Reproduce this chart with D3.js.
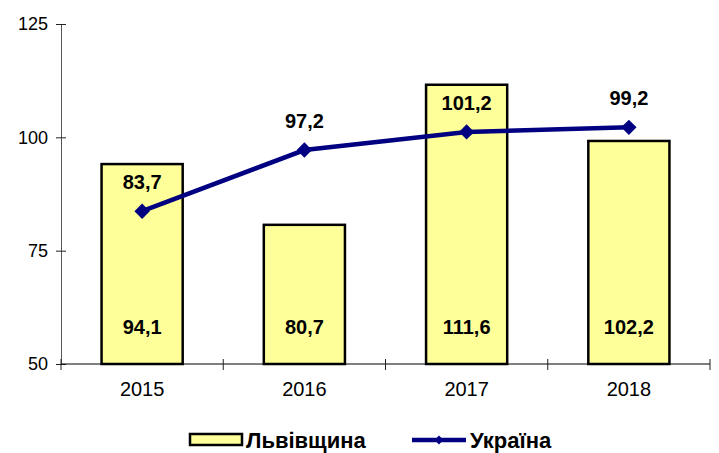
<!DOCTYPE html>
<html>
<head>
<meta charset="utf-8">
<script src="https://cdn.jsdelivr.net/npm/d3@7"></script>
<style>
    body { margin: 0; background: #fff; }
    svg { display: block; font-family: Arial, "Liberation Sans", sans-serif; }
</style>
</head>
<body>
<div id="chart"></div>
<script>
const years = ['2015', '2016', '2017', '2018'];
// plotted values (bar heights / line points as drawn)
const lvivValues = [94.1, 80.7, 111.6, 99.2];
const ukraineValues = [83.7, 97.2, 101.2, 102.2];
// labels as printed on the chart
const lvivLabels = ['94,1', '80,7', '111,6', '102,2'];
const ukraineLabels = ['83,7', '97,2', '101,2', '99,2'];
const yTicks = [50, 75, 100, 125];
const seriesNames = ['Львівщина', 'Україна'];

const width = 719, height = 453;
const padding = { top: 24, right: 9, bottom: 89, left: 61 };

const svg = d3.select('#chart').append('svg')
    .attr('width', width)
    .attr('height', height);

const xScale = d3.scaleBand()
    .domain(years)
    .range([padding.left, width - padding.right])
    .paddingInner(0.5)
    .paddingOuter(0.25);

const yScale = d3.scaleLinear()
    .domain([50, 125])
    .range([height - padding.bottom, padding.top]);

// y axis
const yAxis = d3.axisLeft(yScale).tickValues(yTicks).tickSize(5).tickPadding(8);
const yAxisLine = svg.append('g')
    .attr('transform', 'translate(' + padding.left + ',0)')
    .call(yAxis);
yAxisLine.select('.domain').attr('stroke', '#555');
yAxisLine.selectAll('.tick line').attr('x1', 5).attr('stroke', '#222');
yAxisLine.selectAll('text').attr('font-size', 18).attr('fill', '#000')
    .attr('font-family', 'Arial, "Liberation Sans", sans-serif');

// x axis - ticks at band boundaries
const bandStep = xScale.step();
const xTickPos = d3.range(years.length + 1).map(i => padding.left + i * bandStep);
const xAxisLine = svg.append('g')
    .attr('transform', 'translate(0,' + yScale(50) + ')');
xAxisLine.append('line')
    .attr('x1', padding.left).attr('x2', width - padding.right)
    .attr('stroke', '#000');
xAxisLine.selectAll('.xtick')
    .data(xTickPos)
    .enter()
    .append('line')
    .attr('x1', d => d).attr('x2', d => d)
    .attr('y1', -5).attr('y2', 6)
    .attr('stroke', '#222');
xAxisLine.selectAll('.xlabel')
    .data(years)
    .enter()
    .append('text')
    .attr('x', d => xScale(d) + xScale.bandwidth() / 2)
    .attr('y', 32)
    .attr('text-anchor', 'middle')
    .attr('font-size', 20)
    .text(d => d);

// bars
svg.selectAll('.bar')
    .data(lvivValues)
    .enter()
    .append('rect')
    .attr('class', 'bar')
    .attr('x', (d, i) => xScale(years[i]))
    .attr('y', d => yScale(d))
    .attr('width', xScale.bandwidth())
    .attr('height', d => yScale(50) - yScale(d))
    .attr('fill', '#ffff99')
    .attr('stroke', '#000')
    .attr('stroke-width', 2.5);

svg.selectAll('.barLabel')
    .data(lvivLabels)
    .enter()
    .append('text')
    .attr('x', (d, i) => xScale(years[i]) + xScale.bandwidth() / 2)
    .attr('y', yScale(56.7))
    .attr('text-anchor', 'middle')
    .attr('font-size', 20)
    .attr('font-weight', 'bold')
    .text(d => d);

// line
const cx = (d, i) => xScale(years[i]) + xScale.bandwidth() / 2;
const line = d3.line()
    .x(cx)
    .y(d => yScale(d));

svg.append('path')
    .datum(ukraineValues)
    .attr('d', line)
    .attr('fill', 'none')
    .attr('stroke', '#000080')
    .attr('stroke-width', 4.5);

const diamond = d3.symbol().type(d3.symbolDiamond2).size(150);
svg.selectAll('.marker')
    .data(ukraineValues)
    .enter()
    .append('path')
    .attr('d', diamond)
    .attr('transform', (d, i) => 'translate(' + cx(d, i) + ',' + yScale(d) + ')')
    .attr('fill', '#000080');

svg.selectAll('.lineLabel')
    .data(ukraineLabels)
    .enter()
    .append('text')
    .attr('x', (d, i) => cx(ukraineValues[i], i))
    .attr('y', (d, i) => yScale(ukraineValues[i]) - 22)
    .attr('text-anchor', 'middle')
    .attr('font-size', 20)
    .attr('font-weight', 'bold')
    .text(d => d);

// legend
const legend = svg.append('g').attr('transform', 'translate(0,440)');
legend.append('rect')
    .attr('x', 190).attr('y', -6)
    .attr('width', 52).attr('height', 11)
    .attr('fill', '#ffff99').attr('stroke', '#000').attr('stroke-width', 2.5);
legend.append('text')
    .attr('x', 246).attr('y', 8)
    .attr('font-size', 22).attr('font-weight', 'bold')
    .text(seriesNames[0]);
legend.append('line')
    .attr('x1', 412).attr('x2', 466)
    .attr('stroke', '#000080').attr('stroke-width', 4.5);
legend.append('path')
    .attr('d', d3.symbol().type(d3.symbolDiamond2).size(50))
    .attr('transform', 'translate(439,0)')
    .attr('fill', '#000080');
legend.append('text')
    .attr('x', 470).attr('y', 8)
    .attr('font-size', 22).attr('font-weight', 'bold')
    .text(seriesNames[1]);
</script>
</body>
</html>
